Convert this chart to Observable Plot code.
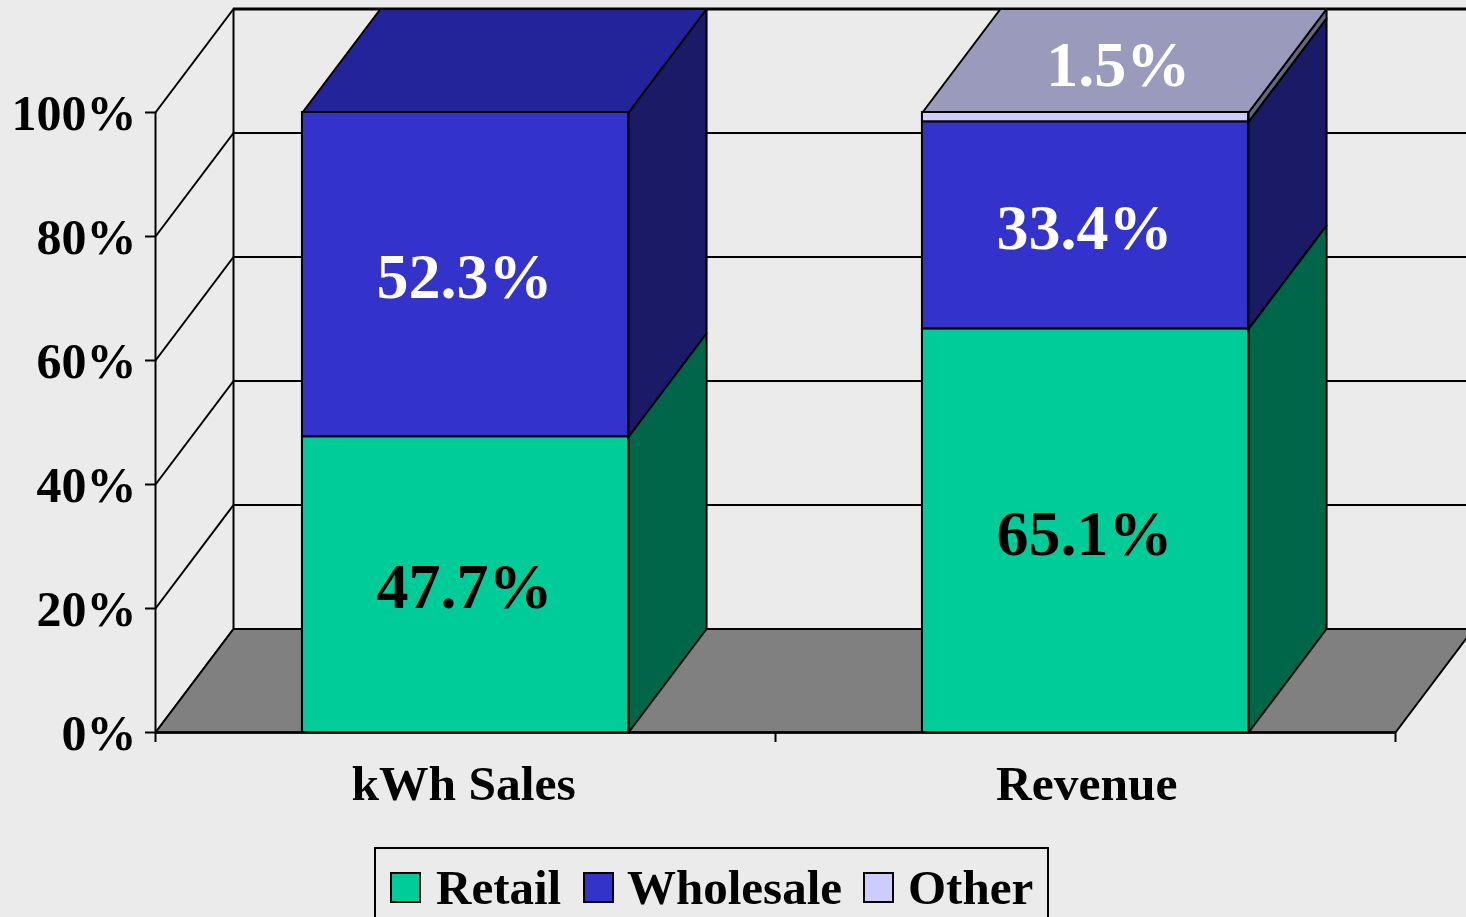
<!DOCTYPE html>
<html>
<head>
<meta charset="utf-8">
<script src="https://cdn.jsdelivr.net/npm/d3@7"></script>
<script src="https://cdn.jsdelivr.net/npm/@observablehq/plot@0.6"></script>
<style>
html,body{margin:0;padding:0;background:#ebebeb;overflow:hidden;width:1466px;height:917px}
#chart svg{display:block}
#legendWrap{position:relative;height:71px;overflow:hidden}
#legend{position:absolute;left:374px;top:1px;width:671px;height:90px;border:2px solid #000;box-sizing:content-box}
.sw{position:absolute;top:23px;width:27px;height:27px;border:2px solid #000;box-sizing:content-box}
.lb{position:absolute;top:9px;font:bold 49px/60px "Liberation Serif","Times New Roman",serif;color:#000;white-space:nowrap}
</style>
</head>
<body>
<div id="chart"></div>
<div id="legendWrap"><div id="legend"></div></div>
<script>
const categories = ["kWh Sales", "Revenue"];
const seriesNames = ["Retail", "Wholesale", "Other"];
const retail = [47.7, 65.1];
const wholesale = [52.3, 33.4];
const other = [0, 1.5];
const frontColors = ["#00cc99", "#3333cc", "#ccccff"];
const sideColors = ["#006649", "#1a1a66", "#66667f"];
const topColors = ["#006649", "#24249a", "#9a9abd"];
const axisTicks = [0, 20, 40, 60, 80, 100];

const FONT = '"Liberation Serif","Times New Roman",serif';
const seriesValues = [retail, wholesale, other];
const depthX = 78 / 620, depthY = 103.5 / 6.2;
const barLeft = 0.237, barWidth = 0.526;

const polys = [];
function poly(id, fill, pts) { pts.forEach(([x, y]) => polys.push({id, fill, x, y})); }

poly("floor", "#808080", [[0, 0], [depthX, depthY], [2 + depthX, depthY], [2, 0]]);

const fronts = [], labels = [];
categories.forEach((c, i) => {
  let base = 0;
  const x1 = i + barLeft, x2 = x1 + barWidth;
  seriesValues.forEach((vals, s) => {
    const v = vals[i];
    if (!v) return;
    const top = base + v;
    poly(`side-${i}-${s}`, sideColors[s], [[x2, base], [x2 + depthX, base + depthY], [x2 + depthX, top + depthY], [x2, top]]);
    fronts.push({x1, x2, y1: base, y2: top, fill: frontColors[s]});
    const isTop = seriesValues.slice(s + 1).every(a => !a[i]);
    if (isTop) poly(`top-${i}-${s}`, topColors[s], [[x1, top], [x1 + depthX, top + depthY], [x2 + depthX, top + depthY], [x2, top]]);
    const onTop = v < 5;
    labels.push({
      text: v.toFixed(1) + "%",
      x: (onTop ? (x1 + x2 + depthX) / 2 - 0.01 : (x1 + x2) / 2 - 0.0015),
      y: onTop ? top + depthY / 2 - 0.1 : base + v / 2 + 0.1,
      color: s === 0 ? "#000" : "#fff"
    });
    base = top;
  });
});

const text = {fontFamily: FONT, fontWeight: "bold"};
const line = {stroke: "#000", strokeWidth: 2};
const plot = Plot.plot({
  width: 1466, height: 846,
  marginLeft: 155, marginRight: 71, marginTop: 112, marginBottom: 114,
  style: {background: "transparent"},
  x: {domain: [0, 2], axis: null},
  y: {domain: [0, 100], axis: null},
  color: {type: "identity"},
  marks: [
    // walls
    Plot.ruleY(axisTicks.filter(d => d < 100).map(v => v + depthY), {x1: depthX, x2: 2.2, ...line}),
    Plot.ruleY([100 + depthY], {x1: depthX, x2: 2.2, stroke: "#000", strokeWidth: 3}),
    Plot.ruleX([depthX], {y1: depthY, y2: 100 + depthY, ...line}),
    Plot.link(axisTicks, {x1: 0, y1: d => d, x2: depthX, y2: d => d + depthY, ...line}),
    // floor
    Plot.line(polys.filter(d => d.id === "floor"), {x: "x", y: "y", z: "id", fill: "fill", ...line, curve: "linear-closed"}),
    // bars
    Plot.line(polys.filter(d => d.id !== "floor"), {x: "x", y: "y", z: "id", fill: "fill", ...line, curve: "linear-closed"}),
    Plot.rect(fronts, {x1: "x1", x2: "x2", y1: "y1", y2: "y2", fill: "fill", ...line}),
    // axes
    Plot.ruleX([0], {y1: 0, y2: 100, ...line}),
    Plot.ruleY([0], {x1: 0, x2: 2, stroke: "#000", strokeWidth: 2.5}),
    Plot.axisY(axisTicks, {anchor: "left", tickSize: 10, tickFormat: () => "", label: null, ...line}),
    Plot.axisY(axisTicks, {anchor: "left", tickSize: 0, tickPadding: 19, tickFormat: d => d + "%", label: null, fontSize: 50, dy: 1, ...text}),
    Plot.axisX([0, 1, 2], {anchor: "bottom", tickSize: 10, tickFormat: () => "", label: null, ...line}),
    Plot.axisX([0.497, 1.502], {anchor: "bottom", tickSize: 0, tickPadding: 32, tickFormat: d => categories[Math.floor(d)], label: null, fontSize: 49.5, ...text}),
    // value labels
    Plot.text(labels, {x: "x", y: "y", text: "text", fill: "color", fontSize: 64, dy: 4, ...text})
  ]
});
document.getElementById("chart").append(plot);

const legend = document.getElementById("legend");
const swLeft = [14, 207, 487], lbLeft = [60, 251, 532];
seriesNames.forEach((name, i) => {
  const sw = document.createElement("div");
  sw.className = "sw"; sw.style.left = swLeft[i] + "px"; sw.style.background = frontColors[i];
  const lb = document.createElement("div");
  lb.className = "lb"; lb.style.left = lbLeft[i] + "px"; lb.textContent = name;
  legend.append(sw, lb);
});
</script>
</body>
</html>
